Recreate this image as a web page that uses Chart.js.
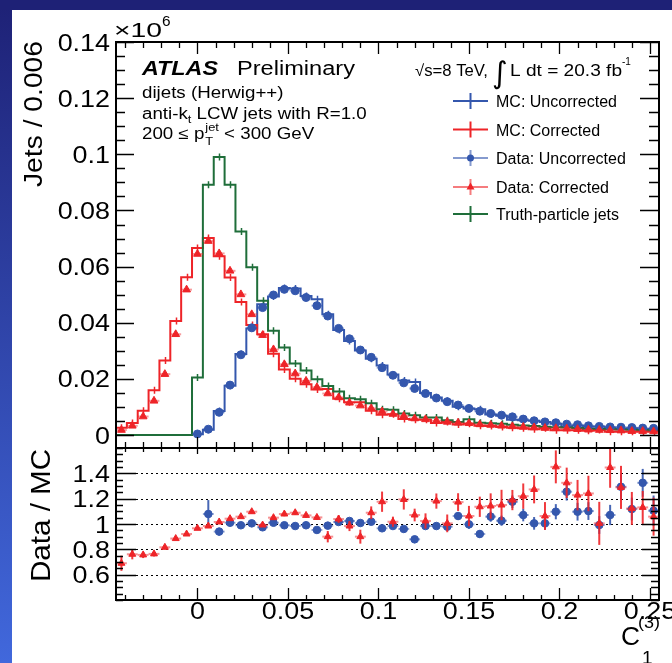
<!DOCTYPE html>
<html>
<head>
<meta charset="utf-8">
<script src="https://cdn.jsdelivr.net/npm/chart.js@4.4.0/dist/chart.umd.min.js"></script>
<style>
  html, body { margin: 0; padding: 0; background: #fff; }
  #page { position: relative; width: 672px; height: 663px; overflow: hidden; background: #fff; }
  #leftbar { position: absolute; left: 0; top: 0; width: 12px; height: 663px; background: linear-gradient(#1e2176, #4168dc); }
  #topbar { position: absolute; left: 0; top: 0; width: 672px; height: 10px; background: #1e2176; }
  canvas { position: absolute; left: 0; top: 0; }
</style>
</head>
<body>
<div id="page">
  <div id="leftbar"></div>
  <div id="topbar"></div>
  <canvas id="topChart" width="672" height="663"></canvas>
  <canvas id="ratioChart" width="672" height="663"></canvas>
</div>
<script>
// Bins of C1(3), width 0.006
const binWidth = 0.006;
const binCenters = [-0.042, -0.036, -0.030, -0.024, -0.018, -0.012, -0.006, 0.000, 0.006, 0.012,
  0.018, 0.024, 0.030, 0.036, 0.042, 0.048, 0.054, 0.060, 0.066, 0.072,
  0.078, 0.084, 0.090, 0.096, 0.102, 0.108, 0.114, 0.120, 0.126, 0.132,
  0.138, 0.144, 0.150, 0.156, 0.162, 0.168, 0.174, 0.180, 0.186, 0.192,
  0.198, 0.204, 0.210, 0.216, 0.222, 0.228, 0.234, 0.240, 0.246, 0.252];

// Top panel (Jets / 0.006, x10^6)
const mcUncorrected = [0, 0, 0, 0, 0, 0, 0, 0.0003, 0.0019, 0.0086,
  0.0176, 0.0289, 0.0380, 0.0466, 0.0494, 0.0524, 0.0522, 0.0495, 0.0484, 0.0430,
  0.0374, 0.0335, 0.0301, 0.0272, 0.0248, 0.0216, 0.0194, 0.0189, 0.0150, 0.0134,
  0.0122, 0.0101, 0.0095, 0.0092, 0.0073, 0.0069, 0.0055, 0.0053, 0.0051, 0.0047,
  0.0040, 0.0031, 0.0034, 0.0030, 0.0031, 0.0027, 0.0022, 0.0024, 0.0019, 0.0022];
const mcCorrected = [0.0026, 0.0043, 0.0087, 0.0160, 0.0266, 0.0406, 0.0562, 0.0666, 0.0702, 0.0637,
  0.0561, 0.0474, 0.0392, 0.0359, 0.0290, 0.0234, 0.0201, 0.0181, 0.0162, 0.0164,
  0.0129, 0.0117, 0.0117, 0.0087, 0.0072, 0.0074, 0.0057, 0.0055, 0.0055, 0.0043,
  0.0047, 0.0038, 0.0040, 0.0033, 0.0032, 0.0029, 0.0026, 0.0024, 0.0021, 0.0024,
  0.0017, 0.0017, 0.0017, 0.0015, 0.0018, 0.0012, 0.0012, 0.0012, 0.0012, 0.0012];
const dataUncorrected = [null, null, null, null, null, null, null, 0.0004, 0.0021, 0.0081,
  0.0178, 0.0286, 0.0382, 0.0454, 0.0499, 0.0519, 0.0514, 0.0490, 0.0461, 0.0424,
  0.0380, 0.0343, 0.0303, 0.0277, 0.0240, 0.0213, 0.0186, 0.0166, 0.0148, 0.0132,
  0.0119, 0.0107, 0.0095, 0.0085, 0.0077, 0.0071, 0.0065, 0.0057, 0.0051, 0.0047,
  0.0044, 0.0039, 0.0037, 0.0033, 0.0031, 0.0029, 0.0028, 0.0027, 0.0025, 0.0024];
const dataCorrected = [0.0018, 0.0033, 0.0066, 0.0122, 0.0217, 0.0359, 0.0518, 0.0645, 0.0691, 0.0647,
  0.0585, 0.0501, 0.0430, 0.0356, 0.0305, 0.0252, 0.0219, 0.0193, 0.0170, 0.0148,
  0.0134, 0.0115, 0.0105, 0.0095, 0.0084, 0.0075, 0.0068, 0.0059, 0.0056, 0.0051,
  0.0047, 0.0044, 0.0042, 0.0038, 0.0036, 0.0033, 0.0031, 0.0029, 0.0027, 0.0025,
  0.0024, 0.0023, 0.0021, 0.0019, 0.0018, 0.0017, 0.0016, 0.0014, 0.0014, 0.0013];
const truthJets = [0, 0, 0, 0, 0, 0, 0, 0.0205, 0.0892, 0.0990,
  0.0892, 0.0725, 0.0598, 0.0478, 0.0372, 0.0312, 0.0255, 0.0230, 0.0199, 0.0175,
  0.0155, 0.0131, 0.0128, 0.0113, 0.0092, 0.0090, 0.0077, 0.0071, 0.0063, 0.0063,
  0.0053, 0.0047, 0.0056, 0.0044, 0.0042, 0.0040, 0.0037, 0.0034, 0.0032, 0.0030,
  0.0028, 0.0027, 0.0025, 0.0023, 0.0022, 0.0021, 0.0020, 0.0019, 0.0018, 0.0017];

// Bottom panel (Data / MC)
const ratioUncorrected = [null, null, null, null, null, null, null, null, 1.079, 0.940,
  1.010, 0.990, 1.005, 0.974, 1.010, 0.990, 0.984, 0.990, 0.953, 0.987,
  1.016, 1.024, 1.008, 1.018, 0.966, 0.984, 0.961, 0.879, 0.984, 0.984,
  0.979, 1.063, 0.997, 0.921, 1.058, 1.026, 1.176, 1.071, 1.005, 1.005,
  1.097, 1.255, 1.097, 1.102, 0.992, 1.071, 1.294, 1.118, 1.325, 1.105];
const ratioUncorrectedErr = [0, 0, 0, 0, 0, 0, 0, 0, 0.11, 0.03,
  0.015, 0.01, 0.01, 0.01, 0.01, 0.01, 0.01, 0.01, 0.01, 0.012,
  0.012, 0.015, 0.015, 0.018, 0.02, 0.02, 0.02, 0.022, 0.025, 0.025,
  0.03, 0.03, 0.035, 0.03, 0.04, 0.04, 0.05, 0.05, 0.05, 0.05,
  0.06, 0.07, 0.07, 0.07, 0.07, 0.08, 0.1, 0.09, 0.11, 0.12];
const ratioCorrected = [0.690, 0.761, 0.756, 0.764, 0.816, 0.885, 0.921, 0.966, 0.984, 1.016,
  1.042, 1.058, 1.097, 0.992, 1.050, 1.079, 1.089, 1.068, 1.052, 0.900,
  1.039, 0.984, 0.900, 1.089, 1.176, 1.018, 1.194, 1.071, 1.024, 1.181,
  1.005, 1.173, 1.063, 1.136, 1.142, 1.150, 1.189, 1.220, 1.273, 1.063,
  1.451, 1.325, 1.228, 1.241, 1.005, 1.446, 1.289, 1.123, 1.131, 1.058];
const ratioCorrectedErr = [0.06, 0.04, 0.025, 0.02, 0.015, 0.012, 0.01, 0.01, 0.01, 0.012,
  0.012, 0.012, 0.015, 0.015, 0.015, 0.018, 0.018, 0.02, 0.02, 0.045,
  0.03, 0.04, 0.055, 0.05, 0.08, 0.04, 0.08, 0.05, 0.06, 0.06,
  0.07, 0.07, 0.08, 0.08, 0.1, 0.12, 0.08, 0.1, 0.11, 0.11,
  0.13, 0.12, 0.12, 0.14, 0.17, 0.16, 0.17, 0.13, 0.13, 0.15];

// Axis ticks
const xMajor = [0, 0.05, 0.1, 0.15, 0.2, 0.25];
const xMajorLabels = ['0', '0.05', '0.1', '0.15', '0.2', '0.25'];
const yTopMajor = [0, 0.02, 0.04, 0.06, 0.08, 0.1, 0.12, 0.14];
const yTopLabels = ['0', '0.02', '0.04', '0.06', '0.08', '0.1', '0.12', '0.14'];
const yRatioMajor = [0.6, 0.8, 1, 1.2, 1.4];
const yRatioLabels = ['0.6', '0.8', '1', '1.2', '1.4'];

const BLUE = '#3457ad';
const RED = '#ee2428';
const GREEN = '#1f6e3a';
const FONT = '"Liberation Sans", Arial, Helvetica, sans-serif';
const SX = 1.17;

const edges = binCenters.map(c => c - binWidth / 2).concat([binCenters[binCenters.length - 1] + binWidth / 2]);
const histPoints = vals => edges.map((e, i) => ({ x: e, y: vals[Math.min(i, vals.length - 1)] }));
const points = vals => binCenters.map((c, i) => ({ x: c, y: vals[i] }));

function put(ctx, s, x, y, size, o = {}) {
  ctx.save();
  ctx.font = (o.font || '') + ' ' + size + 'px ' + (o.family || FONT);
  ctx.fillStyle = o.color || '#000';
  ctx.textAlign = o.align || 'left';
  ctx.textBaseline = o.base || 'alphabetic';
  const nat = ctx.measureText(s).width;
  const k = o.w ? o.w / nat : (o.sx || 1);
  ctx.translate(x, y);
  if (o.rot) ctx.rotate(o.rot);
  ctx.scale(k, 1);
  ctx.fillText(s, 0, 0);
  ctx.restore();
  return nat * k;
}

const isMajor = (v, arr) => arr.some(m => Math.abs(m - v) < 1e-9);

function drawFrame(chart, t) {
  const { ctx, chartArea: a } = chart;
  const sx = chart.scales.x, sy = chart.scales.y;
  ctx.save();
  ctx.strokeStyle = '#000';
  ctx.lineWidth = 1.3;
  ctx.beginPath();
  for (let k = Math.ceil(sx.min / t.xStep - 1e-6); k * t.xStep <= sx.max + 1e-9; k++) {
    const v = k * t.xStep, px = Math.round(sx.getPixelForValue(v)) + 0.5;
    const maj = isMajor(v, xMajor);
    ctx.moveTo(px, a.top); ctx.lineTo(px, a.top + (maj ? t.xTop[1] : t.xTop[0]));
    ctx.moveTo(px, a.bottom); ctx.lineTo(px, a.bottom - (maj ? t.xBot[1] : t.xBot[0]));
  }
  for (let k = Math.ceil(sy.min / t.yStep - 1e-6); k * t.yStep <= sy.max + 1e-9; k++) {
    const v = k * t.yStep, py = Math.round(sy.getPixelForValue(v)) + 0.5;
    const maj = isMajor(v, t.yMajor);
    ctx.moveTo(a.left, py); ctx.lineTo(a.left + (maj ? t.yLeft[1] : t.yLeft[0]), py);
    ctx.moveTo(a.right, py); ctx.lineTo(a.right - (maj ? t.yRight[1] : t.yRight[0]), py);
  }
  ctx.stroke();
  ctx.lineWidth = 2;
  ctx.strokeRect(a.left, a.top, a.right - a.left, a.bottom - a.top);
  ctx.restore();
}

const errorBars = {
  id: 'errorBars',
  beforeDatasetDraw(chart, args) {
    const ds = chart.data.datasets[args.index];
    if (!ds.errBars) return;
    const { ctx, chartArea: a, scales: { x, y } } = chart;
    const e = ds.errBars;
    ctx.save();
    ctx.beginPath(); ctx.rect(a.left, a.top, a.right - a.left, a.bottom - a.top); ctx.clip();
    ctx.lineWidth = 2;
    ds.data.forEach((p, i) => {
      if (p.y == null) return;
      const px = x.getPixelForValue(p.x), py = y.getPixelForValue(p.y);
      ctx.strokeStyle = e.hColor;
      ctx.beginPath();
      ctx.moveTo(x.getPixelForValue(p.x - binWidth / 2), py);
      ctx.lineTo(x.getPixelForValue(p.x + binWidth / 2), py);
      ctx.stroke();
      if (e.yErr && e.yErr[i]) {
        ctx.strokeStyle = e.vColor;
        ctx.beginPath();
        ctx.moveTo(px, y.getPixelForValue(p.y - e.yErr[i]));
        ctx.lineTo(px, y.getPixelForValue(p.y + e.yErr[i]));
        ctx.stroke();
      }
    });
    ctx.restore();
  },
  afterDatasetDraw(chart, args) {
    const ds = chart.data.datasets[args.index];
    if (!ds.binValues) return;
    const { ctx, scales: { x, y } } = chart;
    ctx.save();
    ctx.strokeStyle = ds.borderColor;
    ctx.lineWidth = 1.5;
    ctx.beginPath();
    ds.binValues.forEach((v, i) => {
      if (!v) return;
      const px = Math.round(x.getPixelForValue(binCenters[i])) + 0.5, py = y.getPixelForValue(v);
      ctx.moveTo(px, py - 3.5); ctx.lineTo(px, py + 3.5);
    });
    ctx.stroke();
    ctx.restore();
  }
};

const topDecor = {
  id: 'topDecor',
  afterDraw(chart) {
    const { ctx, scales: { y } } = chart;
    drawFrame(chart, {
      xStep: 0.01, xTop: [6, 12], xBot: [6, 11],
      yStep: 0.005, yMajor: yTopMajor, yLeft: [9, 18], yRight: [10, 19]
    });
    yTopMajor.forEach((v, i) => put(ctx, yTopLabels[i], 110, y.getPixelForValue(v) + 8.5, 23, { align: 'right', sx: SX }));
    put(ctx, '\u00d710', 114, 37, 21, { w: 48 });
    put(ctx, '6', 162, 26, 14, { sx: 1.1 });
    put(ctx, 'Jets / 0.006', 42, 41, 26, { rot: -Math.PI / 2, align: 'right', w: 146 });

    // ATLAS label block
    put(ctx, 'ATLAS', 142, 75, 20, { font: 'italic bold', w: 76 });
    put(ctx, 'Preliminary', 237, 75, 20, { w: 118 });
    put(ctx, 'dijets (Herwig++)', 142, 97.5, 16, { sx: SX });
    let w = put(ctx, 'anti-k', 142, 118.5, 16, { sx: SX });
    const wt = put(ctx, 't', 142 + w, 122.5, 11, { sx: SX });
    put(ctx, ' LCW jets with R=1.0', 142 + w + wt, 118.5, 16, { sx: SX });
    w = put(ctx, '200 \u2264 p', 142, 139, 16, { sx: SX });
    const wj = put(ctx, 'jet', 142 + w + 1, 131, 11, { sx: SX });
    put(ctx, 'T', 142 + w + 1, 145, 11, { sx: SX });
    put(ctx, ' < 300 GeV', 142 + w + 1 + wj, 139, 16, { sx: SX });

    // energy / luminosity
    put(ctx, '\u221as=8 TeV,', 415, 76, 16, { w: 73 });
    put(ctx, '\u222b', 492, 83, 30, { family: '"DejaVu Sans", sans-serif' });
    put(ctx, 'L dt = 20.3 fb', 510, 76, 16, { w: 112 });
    put(ctx, '-1', 622, 65, 10);

    // legend
    const rows = [
      { label: 'MC: Uncorrected', color: BLUE, y: 101 },
      { label: 'MC: Corrected', color: RED, y: 129.5 },
      { label: 'Data: Uncorrected', color: 'rgba(52,87,173,0.6)', marker: 'circle', y: 158 },
      { label: 'Data: Corrected', color: 'rgba(238,36,40,0.6)', marker: 'triangle', y: 187 },
      { label: 'Truth-particle jets', color: GREEN, y: 214 }
    ];
    rows.forEach(r => {
      ctx.save();
      ctx.strokeStyle = r.color;
      ctx.lineWidth = 2;
      ctx.beginPath();
      ctx.moveTo(453, r.y); ctx.lineTo(488, r.y);
      ctx.moveTo(470.5, r.y - 8); ctx.lineTo(470.5, r.y + 8);
      ctx.stroke();
      if (r.marker === 'circle') {
        ctx.fillStyle = BLUE;
        ctx.beginPath(); ctx.arc(470.5, r.y, 3.5, 0, Math.PI * 2); ctx.fill();
      } else if (r.marker === 'triangle') {
        ctx.fillStyle = RED;
        ctx.beginPath();
        ctx.moveTo(470.5, r.y - 4.5); ctx.lineTo(474.5, r.y + 2.5); ctx.lineTo(466.5, r.y + 2.5);
        ctx.closePath(); ctx.fill();
      }
      ctx.restore();
      put(ctx, r.label, 496, r.y + 6, 16);
    });
  }
};

const ratioDecor = {
  id: 'ratioDecor',
  beforeDatasetsDraw(chart) {
    const { ctx, chartArea: a, scales: { y } } = chart;
    ctx.save();
    ctx.strokeStyle = '#000';
    ctx.lineWidth = 1.2;
    ctx.setLineDash([2, 3]);
    ctx.beginPath();
    yRatioMajor.forEach(v => {
      const py = Math.round(y.getPixelForValue(v)) + 0.5;
      ctx.moveTo(a.left, py); ctx.lineTo(a.right, py);
    });
    ctx.stroke();
    ctx.restore();
  },
  afterDraw(chart) {
    const { ctx, scales: { x, y } } = chart;
    drawFrame(chart, {
      xStep: 0.01, xTop: [4, 6], xBot: [5, 12],
      yStep: 0.05, yMajor: yRatioMajor, yLeft: [7, 20], yRight: [8, 17]
    });
    yRatioMajor.forEach((v, i) => put(ctx, yRatioLabels[i], 110, y.getPixelForValue(v) + 8.5, 23, { align: 'right', sx: SX }));
    xMajor.forEach((v, i) => put(ctx, xMajorLabels[i], x.getPixelForValue(v), 619, 23, { align: 'center', sx: SX }));
    put(ctx, 'Data / MC', 50, 515.5, 28, { rot: -Math.PI / 2, align: 'center', w: 133 });
    put(ctx, 'C', 621, 645, 26, { w: 19 });
    put(ctx, '(3)', 638, 628, 16, { w: 22 });
    put(ctx, '1', 642, 664, 19);
  }
};

const common = {
  responsive: false,
  animation: false,
  events: [],
  plugins: { legend: { display: false }, tooltip: { enabled: false } }
};

new Chart(document.getElementById('topChart'), {
  type: 'line',
  data: {
    datasets: [
      { data: points(dataCorrected), showLine: false, order: 0, pointStyle: 'triangle', pointRadius: 4.5,
        pointBackgroundColor: RED, pointBorderColor: RED, pointBorderWidth: 1,
        errBars: { hColor: 'rgba(238,36,40,0.45)' } },
      { data: points(dataUncorrected), showLine: false, order: 1, pointStyle: 'circle', pointRadius: 4,
        pointBackgroundColor: BLUE, pointBorderColor: BLUE, pointBorderWidth: 1,
        errBars: { hColor: 'rgba(52,87,173,0.45)' } },
      { data: histPoints(truthJets), stepped: 'before', order: 2, borderColor: GREEN, borderWidth: 2, pointRadius: 0, binValues: truthJets },
      { data: histPoints(mcCorrected), stepped: 'before', order: 3, borderColor: RED, borderWidth: 2, pointRadius: 0, binValues: mcCorrected },
      { data: histPoints(mcUncorrected), stepped: 'before', order: 4, borderColor: BLUE, borderWidth: 2, pointRadius: 0, binValues: mcUncorrected }
    ]
  },
  options: {
    ...common,
    layout: { padding: { left: 116, top: 42, right: 13, bottom: 215 } },
    scales: {
      x: { type: 'linear', min: -0.045, max: 0.255, display: false },
      y: { type: 'linear', min: -0.0046, max: 0.14, display: false }
    }
  },
  plugins: [errorBars, topDecor]
});

new Chart(document.getElementById('ratioChart'), {
  type: 'line',
  data: {
    datasets: [
      { data: points(ratioCorrected), showLine: false, order: 0, pointStyle: 'triangle', pointRadius: 4,
        pointBackgroundColor: RED, pointBorderColor: RED, pointBorderWidth: 1,
        errBars: { hColor: 'rgba(238,36,40,0.5)', vColor: 'rgba(238,36,40,0.9)', yErr: ratioCorrectedErr } },
      { data: points(ratioUncorrected), showLine: false, order: 1, pointStyle: 'circle', pointRadius: 3.8,
        pointBackgroundColor: BLUE, pointBorderColor: BLUE, pointBorderWidth: 1,
        errBars: { hColor: 'rgba(52,87,173,0.55)', vColor: 'rgba(52,87,173,0.9)', yErr: ratioUncorrectedErr } }
    ]
  },
  options: {
    ...common,
    layout: { padding: { left: 116, top: 448, right: 13, bottom: 63 } },
    scales: {
      x: { type: 'linear', min: -0.045, max: 0.255, display: false },
      y: { type: 'linear', min: 0.4, max: 1.6, display: false }
    }
  },
  plugins: [errorBars, ratioDecor]
});
</script>
</body>
</html>
